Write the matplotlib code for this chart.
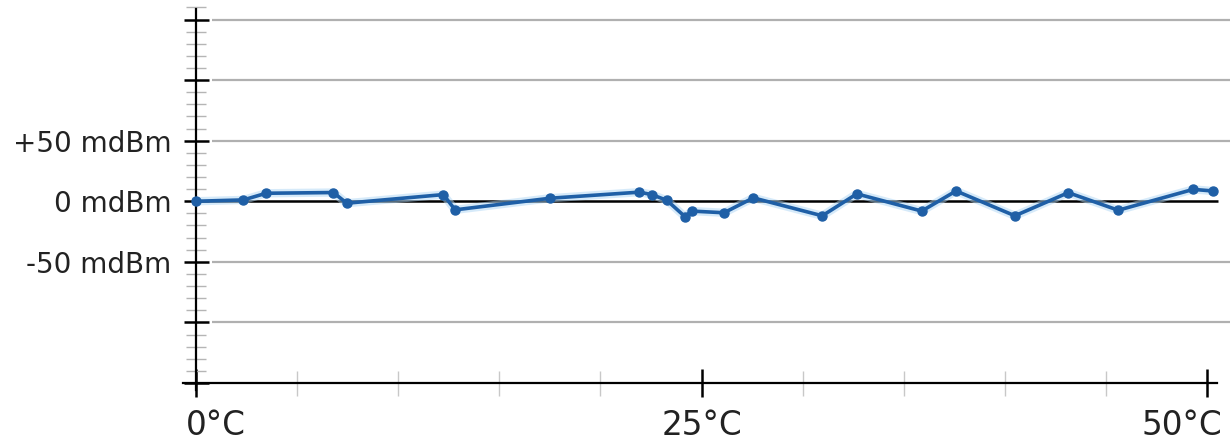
import matplotlib.pyplot as plt
import matplotlib.transforms as mtransforms
from matplotlib.ticker import MultipleLocator

# temperature sweep (deg C) vs measured power offset (mdBm)
temps = [0, 2.34, 3.46, 6.79, 7.45, 12.23, 12.81, 17.51, 21.92, 22.54, 23.29,
         24.18, 24.51, 26.11, 27.56, 30.97, 32.68, 35.89, 37.59, 40.50, 43.14,
         45.61, 49.32, 50.28]
power = [0, 1.1, 6.6, 7.2, -1.6, 5.5, -7.1, 2.5, 7.5, 5.5, 0.7,
         -12.7, -8.1, -9.5, 2.8, -12.0, 6.1, -8.1, 8.5, -12.0, 7.1,
         -7.4, 9.8, 8.5]

x_ticks = [0, 25, 50]
x_labels = ["0°C", "25°C", "50°C"]
y_ticks = [-150, -100, -50, 0, 50, 100, 150]
y_labels = ["", "", "-50 mdBm", "0 mdBm", "+50 mdBm", "", ""]

W, H = 1230, 444
fig = plt.figure(figsize=(W / 100, H / 100), dpi=100)
# axes: left edge at pixel 183, bottom at pixel 383 (y=-150), top at 0
ax = fig.add_axes([183 / W, (H - 383) / H, (W - 183) / W, 383 / H])
ax.set_xlim(-0.65, 51.14)
ax.set_ylim(-150, 166.1)

for s in ['top', 'right']:
    ax.spines[s].set_visible(False)
ax.spines['left'].set_position(('data', 0))
ax.spines['left'].set_bounds(-156, 159)
ax.spines['bottom'].set_bounds(-0.65, 50.5)
ax.spines['left'].set_linewidth(1.6)
ax.spines['bottom'].set_linewidth(1.6)

# grid lines
for y in y_ticks:
    if y in (0, -150):
        continue
    ax.hlines(y, 0.8, 51.14, color='#b0b0b0', lw=1.6, zorder=1)
ax.hlines(0, 0, 50.55, color='black', lw=1.8, zorder=2)

ax.plot(temps, power, color='#aed6f5', lw=6, alpha=0.5, zorder=3, clip_on=False)
ax.plot(temps, power, color='#1f5fa6', lw=2.6, marker='o', ms=6.5,
        zorder=4, clip_on=False)

ax.set_xticks(x_ticks)
ax.set_xticklabels(x_labels)
ax.xaxis.set_minor_locator(MultipleLocator(5))
ax.set_yticks(y_ticks)
ax.set_yticklabels(y_labels)
ax.yaxis.set_minor_locator(MultipleLocator(10))

ax.tick_params(axis='x', which='major', direction='inout', length=20, width=1.8,
               color='black', labelsize=23.5, pad=9)
ax.tick_params(axis='x', which='minor', direction='inout', length=18, width=1.0,
               color='#c8c8c8')
ax.tick_params(axis='y', which='major', direction='inout', length=18, width=1.8,
               color='black', labelsize=20, pad=9)
ax.tick_params(axis='y', which='minor', direction='inout', length=15, width=1.0,
               color='#b5b5b5')
ax.tick_params(labelcolor='#222222')

# shift the end labels so they sit inside the figure like the original
labs = ax.get_xticklabels()
labs[0].set_horizontalalignment('left')
labs[0].set_transform(labs[0].get_transform() +
                      mtransforms.ScaledTranslation(-10 / 100, 0, fig.dpi_scale_trans))
labs[-1].set_horizontalalignment('right')
labs[-1].set_transform(labs[-1].get_transform() +
                       mtransforms.ScaledTranslation(15 / 100, 0, fig.dpi_scale_trans))

fig.savefig('out.png', dpi=100, facecolor='white')
